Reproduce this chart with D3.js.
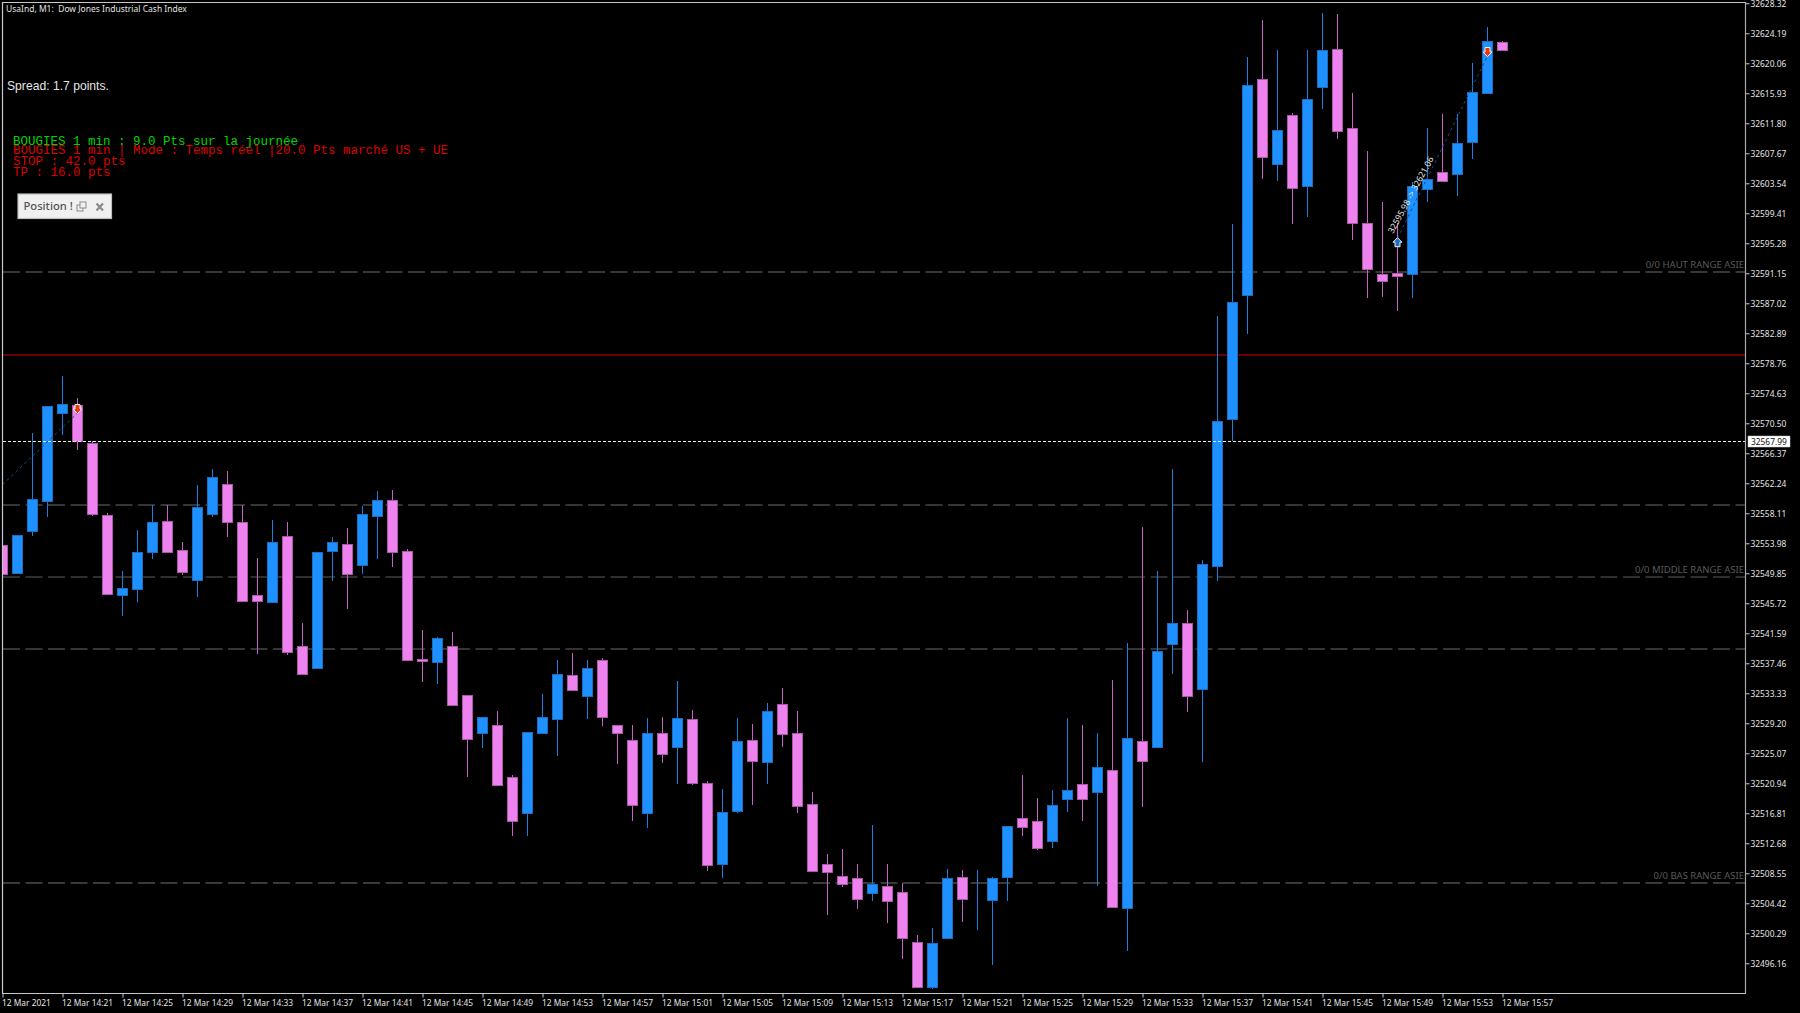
<!DOCTYPE html>
<html><head><meta charset="utf-8"><title>UsaInd M1</title>
<script src="https://cdn.jsdelivr.net/npm/d3@7/dist/d3.min.js"></script>
<style>html,body{margin:0;padding:0;background:#000;overflow:hidden}svg{display:block}</style>
</head><body><svg id="c" width="1800" height="1013"></svg>
<script>
const opens=[32553.74,32549.88,32555.67,32559.80,32571.91,32573.01,32567.78,32557.87,32546.86,32547.68,32552.78,32557.04,32553.05,32548.92,32558.01,32562.14,32556.91,32546.86,32545.89,32554.98,32539.84,32536.81,32552.91,32553.88,32550.99,32557.73,32559.93,32552.91,32538.05,32537.63,32539.84,32533.09,32527.86,32528.96,32521.80,32516.84,32527.86,32529.79,32535.84,32532.95,32537.91,32528.96,32526.89,32516.84,32527.86,32525.93,32529.79,32520.97,32509.82,32517.12,32526.89,32523.87,32531.85,32527.86,32518.08,32509.82,32508.17,32507.90,32505.83,32506.79,32505.97,32499.08,32492.89,32499.64,32508.03,32504.04,32504.87,32508.03,32516.16,32515.74,32512.99,32518.77,32520.84,32519.74,32522.76,32503.77,32526.76,32525.93,32540.11,32543.00,32533.92,32550.85,32571.09,32588.16,32617.89,32606.19,32612.94,32603.16,32616.79,32622.02,32611.15,32598.07,32591.05,32591.19,32591.05,32602.75,32605.09,32604.82,32609.22,32615.97,32622.99];
const closes=[32549.75,32555.12,32560.07,32572.88,32573.15,32568.06,32558.01,32546.99,32547.82,32552.78,32556.91,32552.78,32550.02,32558.97,32563.10,32556.91,32546.03,32546.03,32554.15,32539.01,32535.98,32552.78,32554.15,32549.75,32558.01,32559.93,32552.78,32537.91,32537.77,32540.94,32531.71,32527.03,32530.06,32520.70,32515.74,32528.00,32530.06,32535.98,32533.78,32536.81,32530.06,32527.86,32517.95,32527.86,32524.97,32529.92,32520.97,32509.69,32516.98,32526.76,32524.00,32530.89,32527.72,32517.81,32508.86,32508.72,32507.07,32505.00,32507.07,32504.73,32499.64,32492.89,32498.95,32507.90,32505.00,32504.04,32507.90,32515.05,32514.92,32512.03,32517.95,32520.01,32518.77,32523.18,32503.90,32527.17,32524.00,32539.15,32543.00,32532.95,32551.12,32570.81,32587.19,32617.07,32607.16,32610.87,32602.89,32615.14,32621.89,32610.74,32598.07,32591.74,32590.08,32590.77,32603.16,32604.13,32603.85,32609.08,32616.10,32623.13,32621.89];
const highs=[32553.74,32555.12,32569.16,32572.88,32577.01,32573.98,32568.06,32558.15,32550.16,32555.80,32559.25,32559.25,32554.15,32562.00,32564.20,32563.93,32559.25,32551.95,32557.18,32556.91,32543.00,32552.78,32554.84,32556.08,32559.11,32561.17,32561.31,32553.19,32542.04,32541.07,32541.76,32533.09,32530.06,32530.89,32522.08,32528.00,32533.23,32537.91,32538.87,32537.91,32538.18,32528.96,32528.96,32529.92,32530.06,32535.02,32531.02,32521.25,32520.15,32529.92,32529.10,32531.99,32534.05,32530.89,32519.74,32511.20,32511.89,32509.82,32515.19,32509.82,32507.21,32500.05,32501.01,32509.14,32509.00,32509.00,32508.03,32515.05,32522.08,32518.91,32520.01,32529.92,32528.96,32527.86,32535.15,32540.25,32556.22,32550.16,32564.20,32544.79,32551.67,32585.27,32597.93,32620.92,32626.02,32621.89,32613.21,32621.89,32626.98,32626.84,32615.97,32607.98,32600.96,32598.07,32603.71,32611.15,32613.08,32613.08,32620.10,32625.05,32623.13];
const lows=[32549.75,32549.75,32554.98,32557.60,32568.88,32566.82,32557.73,32546.99,32543.97,32545.89,32551.81,32552.78,32549.61,32546.58,32557.60,32554.84,32546.03,32538.73,32545.75,32538.60,32535.84,32536.81,32548.78,32544.93,32549.75,32551.81,32550.71,32537.91,32534.88,32534.60,32531.71,32521.80,32525.79,32520.70,32513.68,32513.68,32527.72,32524.69,32533.78,32529.79,32528.82,32523.59,32515.74,32514.78,32523.73,32520.84,32520.70,32508.86,32507.90,32516.84,32517.95,32520.84,32525.93,32516.84,32508.86,32502.80,32506.66,32503.63,32504.73,32501.70,32496.74,32492.75,32492.61,32499.64,32501.84,32500.74,32495.92,32504.73,32513.68,32511.75,32512.03,32516.98,32515.74,32506.79,32503.77,32497.85,32517.67,32525.79,32535.98,32530.75,32523.87,32548.78,32568.06,32582.79,32604.13,32603.85,32597.93,32598.90,32613.76,32609.63,32595.73,32587.74,32587.88,32585.95,32587.74,32600.96,32603.71,32601.79,32606.88,32615.83,32621.89];

const priceTicks=[32628.32,32624.19,32620.06,32615.93,32611.80,32607.67,32603.54,32599.41,32595.28,32591.15,32587.02,32582.89,32578.76,32574.63,32570.50,32566.37,32562.24,32558.11,32553.98,32549.85,32545.72,32541.59,32537.46,32533.33,32529.20,32525.07,32520.94,32516.81,32512.68,32508.55,32504.42,32500.29,32496.16];
const timeLabels=["12 Mar 2021","12 Mar 14:21","12 Mar 14:25","12 Mar 14:29","12 Mar 14:33","12 Mar 14:37","12 Mar 14:41","12 Mar 14:45","12 Mar 14:49","12 Mar 14:53","12 Mar 14:57","12 Mar 15:01","12 Mar 15:05","12 Mar 15:09","12 Mar 15:13","12 Mar 15:17","12 Mar 15:21","12 Mar 15:25","12 Mar 15:29","12 Mar 15:33","12 Mar 15:37","12 Mar 15:41","12 Mar 15:45","12 Mar 15:49","12 Mar 15:53","12 Mar 15:57"];
const timeTickIdx=[0,4,8,12,16,20,24,28,32,36,40,44,48,52,56,60,64,68,72,76,80,84,88,92,96,100];

const rangeLevels=[32591.32,32559.25,32549.33,32539.42,32507.21];
const rangeColors=["#6e6e6e","#474747","#5c5c5c","#6a6a6a","#4c4c4c"];
const rangeWidths=[1,1.6,1.2,1,1.6];
const rangeLabelText=["0/0 HAUT RANGE ASIE","","0/0 MIDDLE RANGE ASIE","","0/0 BAS RANGE ASIE"];
const redLevel=32579.90, bidPrice=32567.99;

// trades: [start idx, start price, end idx, end price]
const tradeLines=[[0,32562.05,5,32571.91],[93,32595.98,99,32621.06]];
const buyMarks=[[93,32595.98]];
const sellMarks=[[5,32571.91],[99,32621.06]];

const infoLines=[
 ["BOUGIES 1 min : 9.0 Pts sur la journée","#00d400",141],
 ["BOUGIES 1 min | Mode : Temps réel |20.0 Pts marché US + UE","#dc0000",150],
 ["STOP : 42.0 pts","#dc0000",161],
 ["TP : 16.0 pts","#dc0000",172.5]];

const FRAME={l:2,t:2,r:1745.5,b:993};
const uiFont='"Noto Sans","Liberation Sans",sans-serif';
const svg=d3.select("#c");
svg.append("rect").attr("width",1800).attr("height",1013).attr("fill","#000");
const x=d3.scaleLinear().domain([0,100]).range([2.5,1502.5]);
const y=d3.scaleLinear().domain([32628.77,32492.07]).range([0,993]);
const crisp=v=>Math.round(v)+0.5;

svg.append("defs").append("clipPath").attr("id","plot").append("rect")
  .attr("x",FRAME.l+.5).attr("y",FRAME.t).attr("width",FRAME.r-FRAME.l-.5).attr("height",FRAME.b-FRAME.t);
const plot=svg.append("g").attr("clip-path","url(#plot)");

// range lines
plot.selectAll(".rng").data(rangeLevels).join("line").attr("class","rng")
  .attr("x1",3).attr("x2",FRAME.r).attr("y1",d=>crisp(y(d))-.5).attr("y2",d=>crisp(y(d))-.5)
  .attr("stroke",(d,i)=>rangeColors[i]).attr("stroke-width",(d,i)=>rangeWidths[i]).attr("stroke-dasharray","17,5.5");
plot.selectAll(".rngt").data(rangeLevels).join("text").attr("class","rngt")
  .attr("x",1744).attr("y",d=>y(d)-4).attr("text-anchor","end")
  .attr("font-family",uiFont).attr("font-size",9.5).attr("fill","#5a5a5a")
  .text((d,i)=>rangeLabelText[i]);
plot.append("line").attr("x1",3).attr("x2",FRAME.r).attr("y1",y(redLevel)).attr("y2",y(redLevel))
  .attr("stroke","#8b0000").attr("stroke-width",1.4);

// candles
const idx=d3.range(opens.length);
const col=i=>closes[i]>=opens[i]
  ?{body:"#1e90ff",edge:"#1a6fc0",wick:"#1a80e0"}
  :{body:"#ee82ee",edge:"#a85aa8",wick:"#c860c8"};
plot.selectAll(".wick").data(idx).join("line").attr("class","wick")
  .attr("x1",i=>x(i)).attr("x2",i=>x(i)).attr("y1",i=>y(highs[i])).attr("y2",i=>y(lows[i]))
  .attr("stroke",i=>col(i).wick).attr("stroke-width",1);
plot.selectAll(".body").data(idx).join("rect").attr("class","body")
  .attr("x",i=>x(i)-5).attr("width",10)
  .attr("y",i=>crisp(y(Math.max(opens[i],closes[i]))))
  .attr("height",i=>Math.round(y(Math.min(opens[i],closes[i])))-Math.round(y(Math.max(opens[i],closes[i]))))
  .attr("fill",i=>col(i).body).attr("stroke",i=>col(i).edge).attr("stroke-width",1);

// bid line (over candles)
plot.append("line").attr("x1",3).attr("x2",FRAME.r).attr("y1",crisp(y(bidPrice))-1).attr("y2",crisp(y(bidPrice))-1)
  .attr("stroke","#e8e8e8").attr("stroke-width",1).attr("stroke-dasharray","3,2");

// trade lines and markers
plot.selectAll(".tl").data(tradeLines).join("line").attr("class","tl")
  .attr("x1",d=>x(d[0])).attr("y1",d=>y(d[1])).attr("x2",d=>x(d[2])).attr("y2",d=>y(d[3]))
  .attr("stroke","#0c4f8a").attr("stroke-width",1).attr("stroke-dasharray","3,3");
const arrow=(up)=>up?"M0,-5L4.5,-.5L2.5,-.5L2.5,4L-2.5,4L-2.5,-.5L-4.5,-.5Z":"M0,5L4.5,.5L2.5,.5L2.5,-4L-2.5,-4L-2.5,.5L-4.5,.5Z";
plot.selectAll(".buy").data(buyMarks).join("path").attr("class","buy")
  .attr("transform",d=>`translate(${x(d[0])},${y(d[1])+4.5})`).attr("d",arrow(true))
  .attr("fill","#1a6fc4").attr("stroke","#f0f0f0").attr("stroke-width",1);
plot.selectAll(".sell").data(sellMarks).join("path").attr("class","sell")
  .attr("transform",d=>`translate(${x(d[0])},${y(d[1])-4.5})`).attr("d",arrow(false))
  .attr("fill","#e8380e").attr("stroke","#f4f0f0").attr("stroke-width",1);
plot.append("text").attr("transform",`translate(1393,234) rotate(-61.5)`)
  .attr("font-family",uiFont).attr("font-size",8.6).attr("fill","#e8e8e8")
  .text("32595.98 -> 32621.06");

// axes
const yAxis=d3.axisRight(y).tickValues(priceTicks).tickSize(4).tickPadding(1).tickFormat(d3.format(".2f"));
const gy=svg.append("g").attr("transform",`translate(${FRAME.r},0)`).call(yAxis);
const xAxis=d3.axisBottom(x).tickValues(timeTickIdx).tickSize(4).tickPadding(1).tickFormat((d,i)=>timeLabels[i]);
const gx=svg.append("g").attr("transform",`translate(0,${FRAME.b+.5})`).call(xAxis);
[gy,gx].forEach(g=>{
  g.selectAll("path.domain").remove();
  g.selectAll("line").attr("stroke","#c8c8c8");
  g.selectAll("text").attr("font-family",uiFont).attr("font-size",8.4).attr("fill","#e4e4e4");
});
gy.selectAll("text").attr("y",.8);
gx.selectAll("text").attr("text-anchor","start").attr("x",-1).attr("y",5).attr("dy","0.95em");

// frame
svg.append("path").attr("d",`M${FRAME.l+.5},${FRAME.b+.5}V${FRAME.t+.5}H${FRAME.r}`)
  .attr("fill","none").attr("stroke","#c8c8c8").attr("stroke-width",1.2);
svg.append("line").attr("x1",FRAME.r).attr("x2",FRAME.r).attr("y1",FRAME.t).attr("y2",FRAME.b+1)
  .attr("stroke","#a8a8a8").attr("stroke-width",1.2);
svg.append("line").attr("x1",FRAME.l).attr("x2",FRAME.r).attr("y1",FRAME.b+.5).attr("y2",FRAME.b+.5)
  .attr("stroke","#c8c8c8").attr("stroke-width",1.2);

// bid tag
const bidY=y(bidPrice);
svg.append("rect").attr("x",1748).attr("y",bidY-5.5).attr("width",42).attr("height",11)
  .attr("fill","#fff").attr("stroke","#ccc").attr("stroke-width",.5);
svg.append("text").attr("x",1751).attr("y",bidY+3.2).attr("font-family",uiFont).attr("font-size",8.4)
  .attr("fill","#111").text(d3.format(".2f")(bidPrice));

// texts
svg.append("text").attr("x",6).attr("y",12).attr("font-family",uiFont).attr("font-size",8.5).attr("fill","#e0e0e0")
  .attr("xml:space","preserve").style("white-space","pre").text("UsaInd, M1:  Dow Jones Industrial Cash Index");
svg.append("text").attr("x",7).attr("y",90).attr("font-family",'"Liberation Sans",sans-serif').attr("font-size",12.15).attr("fill","#e4e4e4")
  .text("Spread: 1.7 points.");
svg.selectAll(".info").data(infoLines).join("text").attr("class","info")
  .attr("x",13).attr("y",d=>d[2]+3.5).attr("font-family",'"Liberation Mono",monospace').attr("font-size",12.5)
  .attr("fill",d=>d[1]).text(d=>d[0]);

// collapsed panel
const w=svg.append("g");
w.append("rect").attr("x",18).attr("y",194).attr("width",93.5).attr("height",24.5).attr("fill","#f0f0f0").attr("stroke","#bdbdbd").attr("stroke-width",1.2);
w.append("text").attr("x",23.5).attr("y",210).attr("font-family",uiFont).attr("font-size",11.2).attr("font-weight",500).attr("fill","#555").text("Position !");
w.append("rect").attr("x",77).attr("y",205).attr("width",6).attr("height",6).attr("fill","none").attr("stroke","#8a8a8a");
w.append("rect").attr("x",80).attr("y",202).attr("width",6).attr("height",6).attr("fill","#f0f0f0").attr("stroke","#8a8a8a");
w.append("path").attr("d","M96.5,203.5L103,210.5M103,203.5L96.5,210.5").attr("stroke","#8a8a8a").attr("stroke-width",2.2);
</script></body></html>
